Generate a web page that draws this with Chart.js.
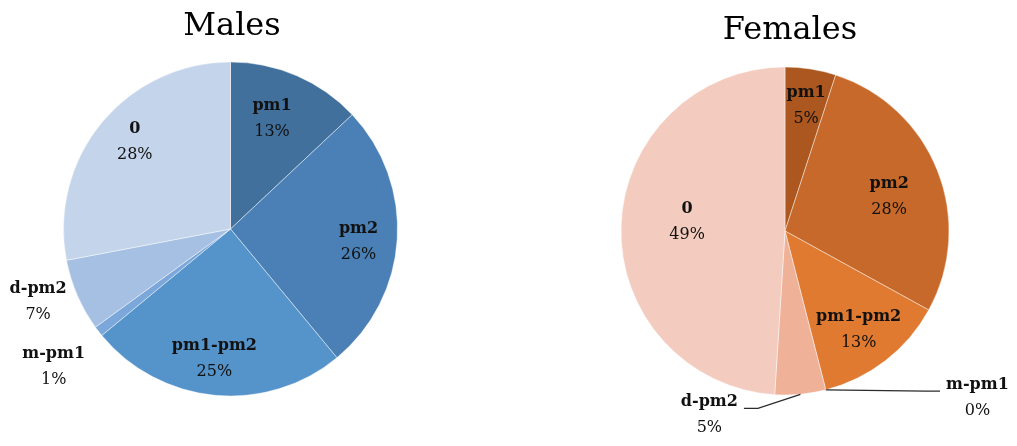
<!DOCTYPE html>
<html>
<head>
<meta charset="utf-8">
<script src="https://cdn.jsdelivr.net/npm/chart.js@4/dist/chart.umd.min.js"></script>
<style>
  html, body { margin: 0; padding: 0; background: #ffffff; }
  body { width: 1017px; height: 446px; position: relative; overflow: hidden; }
  .wrap { position: absolute; top: 0; height: 446px; }
  canvas { display: block; }
</style>
</head>
<body>
<div class="wrap" style="left:0;width:461px;"><canvas id="males" width="461" height="446" style="width:461px;height:446px;"></canvas></div>
<div class="wrap" style="left:508px;width:509px;"><canvas id="females" width="509" height="446" style="width:509px;height:446px;"></canvas></div>
<script>
// ---- data ----
const categories = ['pm1', 'pm2', 'pm1-pm2', 'm-pm1', 'd-pm2', '0'];
const malesValues = [13, 26, 25, 1, 7, 28];
const femalesValues = [5, 28, 13, 0, 5, 49];
const titles = ['Males', 'Females'];

// ---- styles ----
const malesColors = ['#41709c', '#4a80b5', '#5593cb', '#7ba7da', '#a6c0e3', '#c4d4eb'];
const femalesColors = ['#ab571f', '#c7692a', '#e07a31', '#e99a6e', '#f0b199', '#f4ccbf'];
// label placement: radial fraction of radius, angular nudge (deg), leader line
const malesLabelPos = [
  {f: 0.71, d: -2.9}, {f: 0.77, d: 1.7}, {f: 0.78, d: 1.7},
  {f: 1.34, d: 0}, {f: 1.23, d: 2.9}, {f: 0.78, d: 3.1}
];
const femalesLabelPos = [
  {f: 0.78, d: 0.5}, {f: 0.67, d: 3}, {f: 0.75, d: 1},
  {f: 1.55, d: -34.8, leader: true}, {f: 1.21, d: 27.8, leader: true}, {f: 0.60, d: 4}
];

const FONT = '"DejaVu Serif", "Liberation Serif", serif';

const labelPlugin = {
  id: 'pieLabels',
  afterDatasetsDraw(chart, args, opts) {
    const ctx = chart.ctx;
    const meta = chart.getDatasetMeta(0);
    const values = chart.data.datasets[0].data;
    const labels = chart.data.labels;
    let cx = 0, cy = 0;
    ctx.save();
    meta.data.forEach((arc, i) => {
      const p = arc.getProps(['x', 'y', 'startAngle', 'endAngle', 'outerRadius'], true);
      cx = p.x; cy = p.y;
      const r = p.outerRadius;
      const mid = (p.startAngle + p.endAngle) / 2;
      const lp = opts.positions[i];
      const a = mid + lp.d * Math.PI / 180;
      const lx = p.x + Math.cos(a) * r * lp.f;
      const ly = p.y + Math.sin(a) * r * lp.f;
      const name = labels[i];
      const pct = values[i] + '%';
      ctx.fillStyle = '#111111';
      ctx.textAlign = 'center';
      ctx.textBaseline = 'alphabetic';
      ctx.font = 'bold 16px ' + FONT;
      const w = ctx.measureText(name).width;
      ctx.fillText(name, lx, ly - 8);
      ctx.font = '16px ' + FONT;
      ctx.fillText(pct, lx, ly + 18);
      if (lp.leader) {
        const sx = p.x + Math.cos(mid) * r;
        const sy = p.y + Math.sin(mid) * r;
        const right = lx > sx;
        const ex = right ? lx - w / 2 - 6 : lx + w / 2 + 6;
        const ey = ly - 6;
        const bx = right ? ex - 14 : ex + 14;
        ctx.strokeStyle = '#2b2b2b';
        ctx.lineWidth = 1.3;
        ctx.beginPath();
        ctx.moveTo(sx, sy);
        ctx.lineTo(bx, ey);
        ctx.lineTo(ex, ey);
        ctx.stroke();
      }
    });
    // title
    ctx.fillStyle = '#000000';
    ctx.textAlign = 'center';
    ctx.textBaseline = 'alphabetic';
    ctx.font = '32px ' + FONT;
    ctx.fillText(opts.title, cx + opts.titleDx, opts.titleY);
    ctx.restore();
  }
};

function makePie(id, values, colors, positions, title, radius, padding, titleDx, titleY) {
  return new Chart(document.getElementById(id), {
    type: 'pie',
    data: {
      labels: categories,
      datasets: [{
        data: values,
        backgroundColor: colors,
        borderColor: 'rgba(255,255,255,0.55)',
        borderWidth: 0.8,
        hoverOffset: 0,
        offset: 0
      }]
    },
    options: {
      responsive: false,
      animation: false,
      radius: radius,
      layout: { padding: padding },
      events: [],
      plugins: {
        legend: { display: false },
        tooltip: { enabled: false },
        title: { display: false },
        pieLabels: { positions: positions, title: title, titleDx: titleDx, titleY: titleY }
      }
    },
    plugins: [labelPlugin]
  });
}

makePie('males', malesValues, malesColors, malesLabelPos, titles[0], 167,
  {left: 0, right: 0, top: 12, bottom: 0}, 1.5, 35);
makePie('females', femalesValues, femalesColors, femalesLabelPos, titles[1], 164,
  {left: 45, right: 0, top: 16, bottom: 0}, 5, 39);
</script>
</body>
</html>
